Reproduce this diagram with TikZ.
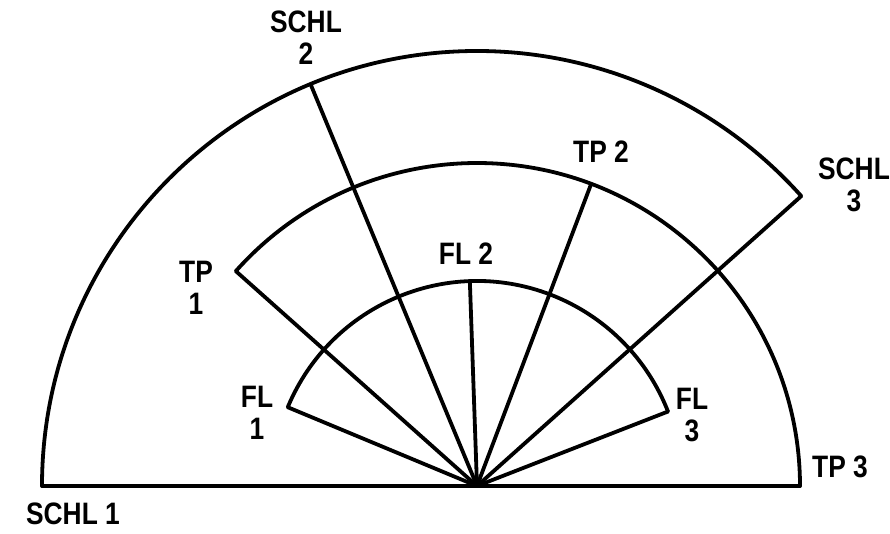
\documentclass[tikz,border=0pt]{standalone}
\usepackage{fontspec}
\setmainfont{Liberation Sans}[FakeStretch=0.85]
\begin{document}
\begin{tikzpicture}[x=1pt,y=1pt,
  stroke/.style={line width=3.8pt,line cap=round,line join=round},
  lbl/.style={font=\fontsize{31}{32}\selectfont\bfseries,align=center,inner sep=0pt}]
\useasboundingbox (-477,-48) rectangle (413,486);
% center and end points
\coordinate (c) at (0,0);
\coordinate (schl1) at (180:435);
\coordinate (schl2) at (112.5:435);
\coordinate (schl3) at (41.8:435);
\coordinate (tp1) at (138.3:323);
\coordinate (tp2) at (69.3:323);
\coordinate (tp3) at (0:323);
\coordinate (fl1) at (157.4:205);
\coordinate (fl2) at (92:205);
\coordinate (fl3) at (21.3:205);
% arcs
\draw[stroke] (schl1) arc[start angle=180, end angle=41.8, radius=435];
\draw[stroke] (tp1) arc[start angle=138.3, end angle=0, radius=323];
\draw[stroke] (fl1) arc[start angle=157.4, end angle=21.3, radius=205];
% baseline
\draw[stroke] (schl1) -- (c) -- (tp3);
% spokes
\foreach \p in {schl2,schl3,tp1,tp2,fl1,fl2,fl3}
  \draw[stroke] (c) -- (\p);
% labels
\node[lbl] (lschl1) at (-404,-28) {SCHL 1};
\node[lbl] (lschl2) at (-171,448) {SCHL\\2};
\node[lbl] (lschl3) at (377,301) {SCHL\\3};
\node[lbl] (ltp1) at (-281,198) {TP\\1};
\node[lbl] (ltp2) at (124,334) {TP 2};
\node[lbl] (ltp3) at (363,19) {TP 3};
\node[lbl] (lfl1) at (-220,73) {FL\\1};
\node[lbl] (lfl2) at (-11,232) {FL 2};
\node[lbl] (lfl3) at (215,71) {FL\\3};
\end{tikzpicture}
\end{document}
